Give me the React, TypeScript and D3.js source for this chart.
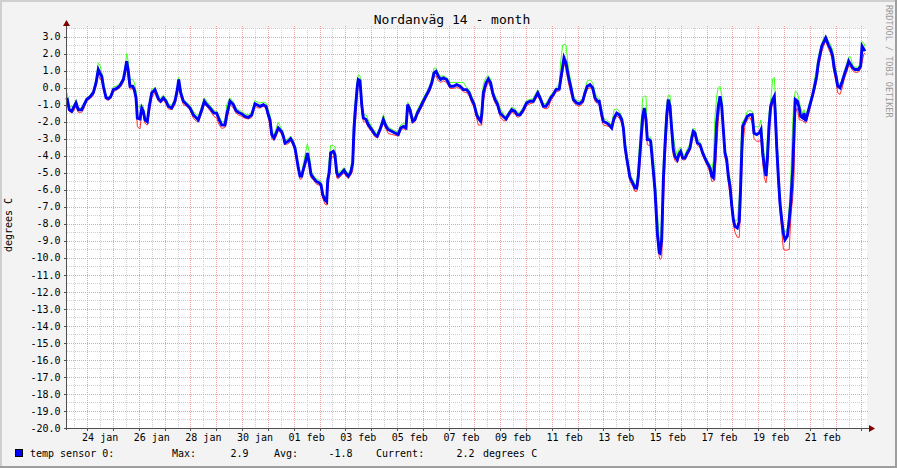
import React from "react";
import * as d3 from "d3";

// ---------- data ----------
const TITLE = "Nordanväg 14 - month";
const Y_LABEL = "degrees C";
const WATERMARK = "RRDTOOL / TOBI OETIKER";
const START = Date.UTC(2010, 0, 23, 5, 10); // left edge of plot
const SPAN_HOURS = 744; // 31 days shown
const Y_MIN = -20;
const Y_MAX = 3.5;
const Y_TICKS = [3, 2, 1, 0, -1, -2, -3, -4, -5, -6, -7, -8, -9, -10, -11, -12, -13, -14, -15, -16, -17, -18, -19, -20];
const X_LABEL_DAYS = ["2010-01-24", "2010-01-26", "2010-01-28", "2010-01-30", "2010-02-01", "2010-02-03", "2010-02-05", "2010-02-07", "2010-02-09", "2010-02-11", "2010-02-13", "2010-02-15", "2010-02-17", "2010-02-19", "2010-02-21"];
const MONTHS = ["jan", "feb", "mar", "apr", "maj", "jun", "jul", "aug", "sep", "okt", "nov", "dec"];

const LEGEND_NAME = "temp sensor 0:";
const LEGEND_MAX = "2.9";
const LEGEND_AVG = "-1.8";
const LEGEND_CUR = "2.2";
const LEGEND_UNIT = "degrees C";

// hours since START
const HOURS = [
  0, 2.1, 4.4, 5.9, 8.4, 10.5, 13.7, 15.2, 18.3, 21.4,
  24.5, 27.0, 29.1, 30.7, 32.3, 33.8, 36.3, 38.4, 40.6, 43.1,
  46.2, 49.3, 52.4, 53.9, 55.5, 57.0, 58.6, 61.1, 62.6, 64.2,
  65.4, 67.9, 69.5, 71.0, 72.5, 74.7, 76.5, 78.8, 81.8, 84.9,
  87.1, 89.6, 92.1, 94.2, 97.4, 100.4, 102.6, 103.9, 105.7, 108.2,
  111.3, 114.4, 117.5, 120.6, 122.1, 125.3, 127.7, 129.9, 133.0, 136.7,
  139.2, 141.6, 143.9, 146.9, 148.5, 151.6, 154.7, 157.2, 159.3, 162.5,
  165.5, 168.6, 171.8, 174.8, 177.9,
  179.5, 182.6, 185.1, 187.2, 188.8, 190.4, 192.5, 194.4, 196.5, 199.7,
  201.2, 202.7, 205.8, 208.0, 209.9, 212.0, 213.6, 215.1, 216.7, 218.3,
  219.8, 221.6, 223.5, 225.3, 226.9, 229.1, 231.6, 234.6, 236.2, 237.8,
  239.9, 241.5, 242.5, 243.9, 245.2, 247.7, 249.2, 250.8, 252.3, 255.5,
  257.6, 259.5, 261.6, 263.8, 265.7, 266.9, 268.8, 270.0, 270.9, 272.5,
  274.1, 275.6, 278.1, 280.2, 283.4, 286.4, 288.6, 291.1, 294.2, 296.7,
  298.8, 302.0, 305.0, 308.1, 310.3, 312.8, 315.3, 316.8, 319.0, 321.5,
  323.6, 325.8, 328.3, 331.4, 334.5, 336.9, 339.2, 341.3, 343.2, 345.3,
  347.5, 350.0, 353.1, 356.2, 359.3, 362.4,
  365.5, 368.6, 371.7, 374.1, 376.4, 378.5, 381.0, 382.5, 384.7, 385.7,
  387.2, 389.7, 391.8, 394.0, 395.9, 398.0, 400.2, 402.7, 405.8, 408.3,
  410.4, 413.6, 416.6, 418.8, 421.3, 424.4, 427.5, 430.6, 433.7, 436.2,
  437.8, 439.9, 443.0, 445.5, 447.6, 449.8, 452.3, 454.8, 457.8, 459.1,
  461.0, 462.2, 464.1, 466.2, 468.4, 470.9, 474.0, 476.4, 479.6, 481.7,
  483.9, 486.4, 488.9, 491.0, 493.2, 495.0, 497.3, 498.8, 501.9, 504.3,
  506.6, 508.7, 511.2, 513.6, 515.9, 517.4, 518.9, 520.5, 522.0, 523.6,
  526.1, 528.2, 529.8, 531.3, 532.9, 534.5, 535.4, 536.9, 538.5, 539.7,
  541.5, 542.8, 544.7, 546.8, 549.0, 550.8,
  551.5, 553.1, 554.6, 556.1, 557.7, 559.2, 560.8, 562.4, 563.9, 565.4,
  567.6, 569.2, 570.7, 572.6, 574.7, 576.9, 579.4, 581.0, 582.5, 584.0,
  586.2, 588.7, 591.2, 593.3, 595.5, 598.0, 599.6, 601.1, 602.6, 604.2,
  605.7, 607.3, 608.9, 610.4, 611.9, 613.5, 615.0, 616.6, 618.2, 619.7,
  621.2, 623.4, 625.2, 626.5, 627.5, 628.4, 630.5, 632.7, 635.2, 637.3,
  638.9, 641.4, 643.8, 645.4, 647.0, 648.5, 650.1, 651.3, 652.9, 654.4,
  656.3, 657.8, 658.7, 660.0, 661.5, 663.1, 664.7, 666.2, 667.7, 669.9,
  671.7, 673.3, 674.9, 676.1, 677.3, 679.2, 681.0, 682.3, 684.2, 685.4,
  687.0, 688.9, 691.0, 693.5, 695.6, 697.2, 698.7, 700.3, 701.9, 703.4,
  705.6, 708.0, 710.2, 712.1, 713.3, 715.2, 716.8, 718.9, 721.0, 722.9,
  725.1, 727.0, 728.8, 730.7, 732.8, 735.9, 738.1, 739.4, 741.2, 742.1,
];

const AVG = [
  -0.6, -1.3, -1.4, -1.2, -0.9, -1.3, -1.3, -1.1, -0.7, -0.55,
  -0.3, 0.27, 1.06, 0.85, 0.67, 0.08, -0.6, -0.65, -0.55, -0.12,
  -0.05, 0.12, 0.47, 0.96, 1.55, 0.96, 0.08, 0.08, -0.12, -0.6,
  -1.8, -1.84, -1.2, -1.4, -1.9, -2.0, -1.1, -0.31, -0.12, -0.66,
  -0.8, -0.6, -0.8, -1.1, -1.2, -0.8, -0.12, 0.47, -0.3, -0.8,
  -1.0, -1.2, -1.6, -1.8, -1.9, -1.3, -0.8, -1.0, -1.2, -1.5,
  -1.5, -1.9, -2.2, -2.2, -1.6, -0.8, -1.0, -1.35, -1.45, -1.55,
  -1.7, -1.75, -1.6, -0.95, -1.05,
  -1.1, -1.0, -1.1, -1.6, -1.9, -2.76, -2.96, -2.7, -2.37, -2.6,
  -2.86, -3.26, -3.15, -3.0, -3.2, -3.55, -4.14, -4.72, -5.2, -5.2,
  -4.8, -4.4, -3.84, -4.4, -5.1, -5.3, -5.5, -5.6, -5.7, -6.3,
  -6.6, -6.7, -5.4, -5.0, -3.84, -3.75, -3.95, -5.0, -5.2, -5.0,
  -4.85, -5.05, -5.2, -5.0, -4.43, -2.37, -0.8, 0.08, 0.47, 0.4,
  -1.0, -1.78, -1.88, -2.18, -2.47, -2.76, -2.86, -2.47, -1.88, -2.28,
  -2.47, -2.57, -2.67, -2.76, -2.37, -2.28, -2.37, -1.0, -1.3, -1.98,
  -1.88, -1.5, -1.2, -0.8, -0.41, -0.12, 0.27, 0.86, 0.96, 0.67,
  0.47, 0.57, 0.47, 0.08, 0.08, 0.17,
  0.08, -0.12, -0.12, -0.31, -0.7, -0.96, -1.6, -1.8, -1.98, -1.6,
  -0.31, 0.27, 0.51, 0.27, -0.31, -0.7, -0.96, -1.5, -1.7, -1.84,
  -1.6, -1.3, -1.4, -1.6, -1.6, -1.3, -0.9, -0.8, -0.8, -0.5,
  -0.31, -0.6, -1.1, -1.1, -0.9, -0.6, -0.4, -0.12, -0.08, 0.47,
  1.25, 1.75, 1.45, 0.67, 0.08, -0.7, -0.9, -0.96, -0.8, -0.31,
  0.08, 0.17, -0.02, -0.6, -0.8, -0.8, -1.6, -1.98, -2.08, -2.2,
  -2.37, -1.8, -1.5, -1.6, -1.88, -2.37, -3.45, -4.14, -4.7, -5.3,
  -5.6, -5.9, -5.9, -5.2, -3.84, -2.47, -1.7, -1.2, -1.9, -3.06,
  -3.06, -3.15, -4.5, -6.0, -8.55, -9.7,
  -9.73, -8.9, -5.4, -3.45, -1.69, -0.7, -1.1, -2.47, -3.65, -4.04,
  -4.25, -3.9, -3.75, -4.14, -4.14, -3.84, -3.55, -2.96, -2.57, -2.67,
  -3.25, -3.35, -3.84, -4.14, -4.43, -4.72, -5.2, -5.3, -4.23, -2.08,
  -1.1, -0.51, -1.1, -2.47, -3.84, -4.23, -5.2, -5.78, -6.9, -7.76,
  -8.16, -8.25, -7.86, -5.8, -3.84, -2.28, -1.98, -1.69, -1.6, -1.6,
  -2.67, -2.76, -2.67, -2.47, -3.84, -4.63, -5.2, -4.23, -2.28, -1.1,
  -0.7, -0.51, -1.5, -3.45, -5.2, -6.8, -7.76, -8.55, -8.94, -8.74,
  -7.76, -6.59, -4.82, -2.67, -0.7, -0.8, -1.2, -1.69, -1.78, -1.5,
  -1.98, -1.5, -1.0, -0.41, 0.18, 0.67, 1.45, 1.94, 2.43, 2.63,
  2.92, 2.53, 2.24, 1.84, 1.2, 0.67, 0.08, -0.02, 0.37, 0.76,
  1.16, 1.55, 1.35, 1.16, 1.06, 1.06, 1.26, 2.43, 2.24, 2.14,
];

const MAX = [
  -0.3, -1.1, -1.1, -1.1, -0.7, -1.2, -1.2, -1.0, -0.6, -0.45,
  -0.15, 0.5, 1.45, 1.3, 0.9, 0.4, -0.45, -0.55, -0.45, 0.05,
  0.1, 0.25, 0.6, 1.2, 2.0, 1.5, 0.47, 0.47, 0.3, -0.2,
  -1.0, -1.2, -1.0, -1.1, -1.7, -1.8, -1.0, -0.1, 0.0, -0.5,
  -0.6, -0.45, -0.65, -0.95, -1.05, -0.6, 0.1, 0.6, 0.0, -0.7,
  -0.85, -1.05, -1.4, -1.6, -1.7, -1.1, -0.6, -0.8, -1.05, -1.35,
  -1.4, -1.7, -2.0, -2.0, -1.0, -0.6, -0.85, -1.2, -1.3, -1.4,
  -1.55, -1.6, -1.45, -0.75, -0.9,
  -0.9, -0.85, -0.9, -1.3, -1.6, -2.5, -2.8, -2.4, -2.05, -2.45,
  -2.7, -3.1, -3.0, -2.85, -3.05, -3.4, -3.9, -4.5, -5.0, -5.0,
  -4.5, -3.9, -3.3, -3.8, -4.9, -5.15, -5.35, -5.45, -5.55, -6.1,
  -6.45, -6.4, -5.0, -4.2, -3.4, -3.4, -3.5, -4.5, -5.0, -4.85,
  -4.7, -4.9, -5.05, -4.8, -4.0, -1.5, -0.3, 0.5, 0.75, 0.7,
  -0.6, -1.6, -1.6, -1.9, -2.3, -2.6, -2.7, -2.3, -1.6, -2.1,
  -2.3, -2.45, -2.55, -2.6, -2.2, -2.1, -2.1, -0.85, -1.1, -1.8,
  -1.7, -1.3, -1.0, -0.6, -0.25, 0.05, 0.5, 1.15, 1.15, 0.85,
  0.65, 0.7, 0.6, 0.3, 0.3, 0.3,
  0.3, 0.3, 0.0, -0.15, -0.5, -0.8, -1.4, -1.6, -1.8, -1.0,
  0.2, 0.6, 0.7, 0.5, -0.1, -0.5, -0.7, -1.2, -1.55, -1.7,
  -1.45, -1.15, -1.25, -1.45, -1.45, -1.15, -0.75, -0.7, -0.65, -0.3,
  -0.15, -0.45, -0.95, -0.95, -0.7, -0.45, -0.25, 0.0, 0.2, 1.5,
  2.5, 2.55, 2.5, 1.2, 0.4, -0.5, -0.75, -0.8, -0.65, -0.1,
  0.4, 0.45, 0.3, -0.3, -0.6, -0.65, -1.3, -1.8, -1.9, -2.05,
  -2.2, -1.3, -1.25, -1.4, -1.7, -2.1, -3.0, -3.8, -4.4, -5.1,
  -5.4, -5.7, -5.7, -4.5, -2.8, -1.5, -0.6, -0.5, -0.5, -2.9,
  -2.9, -2.9, -3.6, -5.2, -7.2, -9.0,
  -9.4, -7.5, -4.3, -2.5, -1.0, -0.45, -0.45, -2.0, -2.8, -3.5,
  -4.0, -3.6, -3.5, -3.9, -3.95, -3.6, -3.3, -2.6, -2.4, -2.4,
  -3.0, -3.2, -3.7, -4.0, -4.3, -4.5, -4.9, -4.3, -1.7, -0.5,
  0.0, 0.08, -0.4, -2.2, -3.6, -4.0, -4.8, -5.3, -6.5, -7.6,
  -7.8, -7.8, -6.5, -3.8, -2.3, -2.0, -1.8, -1.4, -1.35, -1.4,
  -2.3, -2.3, -2.3, -1.9, -3.0, -4.0, -4.5, -3.0, -1.5, -0.8,
  0.5, 0.6, -0.5, -2.5, -4.5, -6.3, -7.4, -8.2, -8.5, -8.3,
  -7.0, -5.0, -2.0, -0.8, -0.2, -0.3, -0.8, -1.2, -1.5, -1.3,
  -1.6, -1.3, -0.8, -0.2, 0.6, 1.2, 1.8, 2.2, 2.6, 2.85,
  3.05, 2.75, 2.5, 2.2, 1.7, 1.0, 0.3, 0.2, 0.5, 0.95,
  1.4, 1.8, 1.8, 1.3, 1.2, 1.2, 1.5, 2.7, 2.6, 2.4,
];

const MIN = [
  -0.7, -1.4, -1.45, -1.4, -1.1, -1.45, -1.45, -1.3, -0.8, -0.65,
  -0.45, 0.1, 0.8, 0.5, 0.45, -0.1, -0.7, -0.75, -0.65, -0.25,
  -0.15, 0.0, 0.3, 0.7, 1.3, 0.5, -0.1, -0.05, -0.3, -0.8,
  -2.3, -2.43, -1.5, -1.6, -2.1, -2.2, -1.5, -0.6, -0.3, -0.8,
  -0.9, -0.75, -0.95, -1.25, -1.3, -1.0, -0.4, 0.2, -0.5, -1.0,
  -1.1, -1.3, -1.8, -2.0, -2.0, -1.5, -1.0, -1.1, -1.35, -1.7,
  -1.8, -2.2, -2.4, -2.35, -2.0, -1.0, -1.2, -1.5, -1.6, -1.7,
  -1.8, -1.85, -1.75, -1.1, -1.2,
  -1.2, -1.1, -1.2, -1.8, -2.2, -3.0, -3.1, -2.9, -2.5, -2.75,
  -3.0, -3.35, -3.3, -3.15, -3.35, -3.7, -4.3, -4.9, -5.4, -5.35,
  -5.0, -4.6, -4.1, -4.7, -5.3, -5.4, -5.65, -5.75, -5.85, -6.5,
  -6.85, -6.9, -6.0, -5.3, -4.2, -4.0, -4.3, -5.3, -5.35, -5.15,
  -5.0, -5.2, -5.35, -5.15, -4.9, -3.5, -1.5, -0.3, 0.2, 0.1,
  -1.5, -2.0, -2.05, -2.35, -2.6, -2.9, -2.95, -2.6, -2.1, -2.45,
  -2.7, -2.75, -2.8, -2.85, -2.55, -2.4, -2.5, -1.3, -1.6, -2.1,
  -2.0, -1.65, -1.35, -0.95, -0.55, -0.3, 0.1, 0.6, 0.7, 0.4,
  0.3, 0.4, 0.3, -0.05, -0.05, 0.0,
  -0.05, -0.25, -0.3, -0.5, -0.9, -1.15, -1.8, -2.2, -2.2, -2.2,
  -0.8, 0.0, 0.3, 0.0, -0.5, -0.9, -1.1, -1.7, -1.95, -1.95,
  -1.75, -1.45, -1.55, -1.75, -1.7, -1.45, -1.05, -0.95, -0.9, -0.65,
  -0.5, -0.75, -1.2, -1.25, -1.2, -0.8, -0.55, -0.25, -0.2, 0.2,
  0.9, 1.4, 1.1, 0.3, -0.3, -0.85, -1.05, -1.1, -0.95, -0.5,
  -0.1, 0.0, -0.15, -0.8, -0.95, -1.0, -1.9, -2.2, -2.25, -2.3,
  -2.45, -2.0, -1.65, -1.8, -2.1, -2.5, -3.7, -4.4, -4.9, -5.5,
  -5.8, -6.1, -6.1, -5.7, -4.5, -3.0, -2.4, -1.5, -2.3, -3.35,
  -3.4, -3.4, -4.8, -6.4, -8.9, -9.95,
  -10.1, -10.0, -7.0, -4.5, -2.5, -1.0, -1.5, -3.0, -4.0, -4.3,
  -4.4, -4.1, -3.95, -4.25, -4.25, -4.0, -3.7, -3.2, -2.8, -2.85,
  -3.4, -3.5, -4.0, -4.3, -4.6, -5.0, -5.5, -5.5, -5.4, -3.5,
  -2.0, -0.8, -1.3, -2.7, -4.1, -4.5, -5.6, -6.3, -7.2, -8.0,
  -8.5, -8.8, -8.8, -7.0, -5.0, -3.5, -2.2, -1.9, -1.75, -2.1,
  -3.0, -3.15, -3.15, -3.1, -4.4, -5.3, -5.6, -5.0, -3.0, -1.5,
  -0.9, -0.8, -2.3, -4.0, -5.8, -7.3, -8.4, -9.5, -9.55, -9.55,
  -9.5, -7.5, -6.5, -5.3, -1.5, -1.2, -1.9, -1.9, -1.95, -2.0,
  -2.1, -1.7, -1.2, -0.6, -0.1, 0.4, 1.1, 1.6, 2.1, 2.4,
  2.75, 2.3, 2.0, 1.5, 0.9, 0.3, -0.3, -0.4, 0.0, 0.5,
  0.9, 1.3, 1.2, 1.0, 0.9, 0.9, 1.1, 1.5, 2.0, 2.0,
];

// ---------- component ----------
const FONT = "'DejaVu Sans Mono', 'Liberation Mono', monospace";

export default function App() {
  const W = 897;
  const H = 468;
  const X0 = 67;
  const X1 = 867;
  const YB = 428;
  const YT = 28;

  const tStart = new Date(START);
  const tEnd = new Date(START + SPAN_HOURS * 3600e3);
  const x = d3.scaleUtc().domain([tStart, tEnd]).range([X0, X1]);
  const y = d3.scaleLinear().domain([Y_MIN, Y_MAX]).range([YB, YT]);
  const crisp = (v: number) => Math.round(v) + 0.5;

  const n = Math.min(HOURS.length, AVG.length, MAX.length, MIN.length);
  const pts = d3.range(n).map((i) => ({
    t: new Date(START + HOURS[i] * 3600e3),
    a: AVG[i],
    mx: MAX[i],
    mn: MIN[i],
  }));
  const mk = (acc: (d: any) => number) =>
    d3
      .line<any>()
      .x((d) => x(d.t))
      .y((d) => y(acc(d)))(pts) || "";

  // grid positions
  const minorY = d3.range(Y_MIN + 0.5, Y_MAX + 0.01, 1);
  const majorY = Y_TICKS.filter((v) => v > Y_MIN);
  const days = d3.utcDay.range(tStart, tEnd);
  const noons = d3.utcHour.range(tStart, tEnd).filter((d) => d.getUTCHours() === 12);

  const labelDates = X_LABEL_DAYS.map((s) => new Date(s + "T12:00:00Z"));
  const fmt = (d: Date) => `${String(d.getUTCDate()).padStart(2, "0")} ${MONTHS[d.getUTCMonth()]}`;

  const gridMinor = "#cfcfcf";
  const gridMajor = "#efa0a0";
  const axisCol = "#4f4f4f";
  const arrowCol = "#7f0000";

  return (
    <svg
      width={W}
      height={H}
      viewBox={`0 0 ${W} ${H}`}
      style={{ position: "absolute", left: 0, top: 0, display: "block" }}
      fontFamily={FONT}
    >
      {/* background + shade */}
      <rect x={0} y={0} width={W} height={H} fill="#f3f3f3" />
      <line x1={0} y1={1} x2={W} y2={1} stroke="#cfcfcf" strokeWidth={2} />
      <line x1={1} y1={0} x2={1} y2={H} stroke="#cfcfcf" strokeWidth={2} />
      <line x1={0} y1={H - 1} x2={W} y2={H - 1} stroke="#9e9e9e" strokeWidth={2} />
      <line x1={W - 1} y1={0} x2={W - 1} y2={H} stroke="#9e9e9e" strokeWidth={2} />

      {/* canvas */}
      <rect x={X0} y={YT} width={X1 - X0} height={YB - YT} fill="#ffffff" />

      {/* minor grid */}
      <g stroke={gridMinor} strokeWidth={1} strokeDasharray="1 1" shapeRendering="crispEdges">
        {minorY.map((v) => (
          <line key={"hy" + v} x1={X0} x2={X1} y1={crisp(y(v))} y2={crisp(y(v))} />
        ))}
        {noons.map((d) => (
          <line key={"vx" + +d} x1={crisp(x(d))} x2={crisp(x(d))} y1={YT} y2={YB} />
        ))}
      </g>
      {/* major grid */}
      <g stroke={gridMajor} strokeWidth={1} strokeDasharray="1 1" shapeRendering="crispEdges">
        {majorY.map((v) => (
          <line key={"my" + v} x1={X0 - 2} x2={X1 + 2} y1={crisp(y(v))} y2={crisp(y(v))} />
        ))}
        {days.map((d) => (
          <line key={"mx" + +d} x1={crisp(x(d))} x2={crisp(x(d))} y1={YT - 2} y2={YB + 2} />
        ))}
      </g>

      {/* series */}
      <g fill="none" strokeLinejoin="miter">
        <path d={mk((d) => d.mn)} stroke="#ff3030" strokeWidth={1} />
        <path d={mk((d) => d.mx)} stroke="#44ff22" strokeWidth={1} />
        <path d={mk((d) => d.a)} stroke="#0000ff" strokeWidth={2.9} />
      </g>

      {/* axes */}
      <g stroke={axisCol} strokeWidth={1} shapeRendering="crispEdges">
        <line x1={crisp(X0 - 1)} x2={crisp(X0 - 1)} y1={YT - 6} y2={YB + 2} />
        <line x1={X0 - 3} x2={X1 + 3} y1={crisp(YB)} y2={crisp(YB)} />
        {majorY.map((v) => (
          <line key={"ty" + v} x1={X0 - 3} x2={X0} y1={crisp(y(v))} y2={crisp(y(v))} />
        ))}
        {days.map((d) => (
          <line key={"tx" + +d} x1={crisp(x(d))} x2={crisp(x(d))} y1={YB} y2={YB + 3} />
        ))}
      </g>
      <path d={`M${X0 - 4},${YT - 2} L${X0 - 0.5},${YT - 8} L${X0 + 3},${YT - 2} Z`} fill={arrowCol} />
      <path d={`M${X1 + 2},${YB - 3} L${X1 + 8},${YB + 0.5} L${X1 + 2},${YB + 4} Z`} fill={arrowCol} />

      {/* y tick labels */}
      <g fontSize={10} fill="#000" textAnchor="end">
        {Y_TICKS.map((v) => (
          <text key={"yl" + v} x={60.5} y={y(v) + 3.7}>
            {v.toFixed(1)}
          </text>
        ))}
      </g>
      {/* x tick labels */}
      <g fontSize={10} fill="#000" textAnchor="middle">
        {labelDates.map((d) => (
          <text key={"xl" + +d} x={x(d)} y={440.5}>
            {fmt(d)}
          </text>
        ))}
      </g>

      {/* title */}
      <text x={452} y={23.5} fontSize={13} textAnchor="middle" fill="#000">
        {TITLE}
      </text>
      {/* y label */}
      <text transform="translate(11.5,225) rotate(-90)" fontSize={10} textAnchor="middle" fill="#000">
        {Y_LABEL}
      </text>
      {/* watermark */}
      <text transform="translate(886,5) rotate(90)" fontSize={8.5} fill="#9a9a9a">
        {WATERMARK}
      </text>

      {/* legend */}
      <rect x={15.5} y={449.5} width={7} height={7} fill="#0000ff" stroke="#000" strokeWidth={1} />
      <g fontSize={10} fill="#000" style={{ whiteSpace: "pre" }}>
        <text x={30} y={457}>{LEGEND_NAME}</text>
        <text x={172} y={457}>Max:</text>
        <text x={248.5} y={457} textAnchor="end">{LEGEND_MAX}</text>
        <text x={274} y={457}>Avg:</text>
        <text x={352.5} y={457} textAnchor="end">{LEGEND_AVG}</text>
        <text x={376} y={457}>Current:</text>
        <text x={474.5} y={457} textAnchor="end">{LEGEND_CUR}</text>
        <text x={483} y={457}>{LEGEND_UNIT}</text>
      </g>
    </svg>
  );
}
